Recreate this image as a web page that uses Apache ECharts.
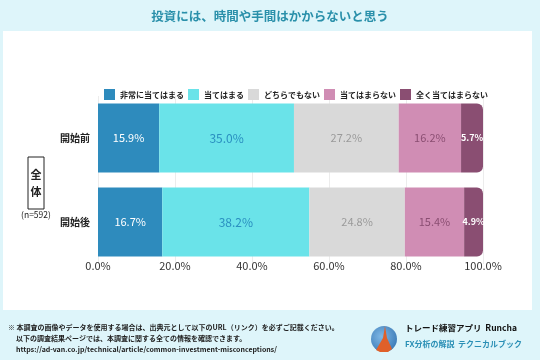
<!DOCTYPE html>
<html><head><meta charset="utf-8">
<script src="https://cdn.jsdelivr.net/npm/echarts@6/dist/echarts.min.js"></script>
<style>html,body{margin:0;padding:0;background:#def5fa}#c{width:540px;height:360px}</style>
</head><body><div id="c"></div>
<script>
var categories = ['開始前', '開始後'];
var seriesNames = ['非常に当てはまる', '当てはまる', 'どちらでもない', '当てはまらない', '全く当てはまらない'];
var vStrong = [15.9, 16.7];
var vAgree = [35.0, 38.2];
var vNeutral = [27.2, 24.8];
var vDisagree = [16.2, 15.4];
var vStrongDis = [5.7, 4.9];
var xTicks = [0, 20, 40, 60, 80, 100];
var title = '投資には、時間や手間はかからないと思う';

var values = [vStrong, vAgree, vNeutral, vDisagree, vStrongDis];
var colors = ['#2e8bbd', '#6ae3e9', '#d9d9d9', '#d08db4', '#8a4e72'];
var labelColors = ['#ffffff', '#2a8fc0', '#9a9a9a', '#8a4e72', '#ffffff'];
var FONT = '"Noto Sans CJK JP", "Noto Sans", sans-serif';

var series = seriesNames.map(function (n, i) {
  return {
    name: n, type: 'bar', stack: 'a', barWidth: 69,
    data: values[i],
    itemStyle: { color: colors[i], borderRadius: i === 4 ? [0, 6, 6, 0] : 0 },
    label: {
      show: true, position: 'inside', color: labelColors[i],
      fontFamily: FONT,
      fontSize: i === 4 ? 9 : (i === 1 ? 12 : 11),
      fontWeight: i === 4 ? 'bold' : 'normal',
      formatter: function (p) { return p.value.toFixed(1) + '%'; }
    }
  };
});

var chart = echarts.init(document.getElementById('c'));
chart.setOption({
  backgroundColor: '#def5fa',
  animation: false,
  textStyle: { fontFamily: FONT },
  legend: {
    data: seriesNames, left: 104, top: 89, padding: 0, width: 430, itemWidth: 11, itemHeight: 11, itemGap: 4,
    icon: 'rect',
    textStyle: { fontSize: 8, fontWeight: 'bold', color: '#222', fontFamily: FONT }
  },
  grid: { left: 98, right: 57, top: 96, height: 168 },
  xAxis: {
    type: 'value', min: 0, max: 100, interval: 20,
    axisLine: { show: false }, axisTick: { show: false },
    splitLine: { show: true, lineStyle: { color: '#ececec', width: 1 } },
    axisLabel: { margin: -4, fontSize: 11, color: '#333', fontFamily: FONT,
      formatter: function (v) { return xTicks.indexOf(v) >= 0 ? v.toFixed(1) + '%' : ''; } }
  },
  yAxis: {
    type: 'category', data: categories, inverse: true,
    axisLine: { show: false }, axisTick: { show: false },
    axisLabel: { margin: 8, fontSize: 10, fontWeight: 'bold', color: '#222', fontFamily: FONT }
  },
  series: series,
  graphic: [
    { type: 'rect', z: -10, shape: { x: 3, y: 31, width: 529, height: 279 }, style: { fill: '#ffffff' } },
    { type: 'text', x: 270, y: 16, style: { text: title, fill: '#2a90aa', font: 'bold 12.5px ' + FONT, align: 'center', verticalAlign: 'middle' } },
    { type: 'rect', shape: { x: 28, y: 157, width: 16, height: 52 }, style: { fill: 'none', stroke: '#222', lineWidth: 1 } },
    { type: 'text', x: 36, y: 175, style: { text: '全', fill: '#222', font: 'bold 11px ' + FONT, align: 'center', verticalAlign: 'middle' } },
    { type: 'text', x: 36, y: 192, style: { text: '体', fill: '#222', font: 'bold 11px ' + FONT, align: 'center', verticalAlign: 'middle' } },
    { type: 'text', x: 36, y: 215, style: { text: '(n=592)', fill: '#222', font: '8.5px ' + FONT, align: 'center', verticalAlign: 'middle' } },
    { type: 'text', x: 8, y: 327, style: { text: '※ 本調査の画像やデータを使用する場合は、出典元として以下のURL（リンク）を必ずご記載ください。', fill: '#222', font: 'bold 7px ' + FONT, verticalAlign: 'middle' } },
    { type: 'text', x: 16, y: 338, style: { text: '以下の調査結果ページでは、本調査に関する全ての情報を確認できます。', fill: '#222', font: 'bold 7px ' + FONT, verticalAlign: 'middle' } },
    { type: 'text', x: 16, y: 349, style: { text: 'https://ad-van.co.jp/technical/article/common-investment-misconceptions/', fill: '#222', font: 'bold 7px ' + FONT, verticalAlign: 'middle' } },
    { type: 'circle', shape: { cx: 384, cy: 339, r: 13 }, style: { fill: new echarts.graphic.RadialGradient(0.4, 0.4, 0.8, [{ offset: 0, color: '#7fb8e6' }, { offset: 1, color: '#2f6fae' }]) } },
    { type: 'polygon', shape: { points: [[385, 326], [383, 338], [376, 350], [380, 352], [388, 352], [392, 349], [387, 338]] }, style: { fill: '#e0602a' } },
    { type: 'text', x: 405, y: 328, style: { text: 'トレード練習アプリ  Runcha', fill: '#111', font: 'bold 8.5px ' + FONT, verticalAlign: 'middle' } },
    { type: 'text', x: 405, y: 344, style: { text: 'FX分析の解説  テクニカルブック', fill: '#2a8fb5', font: 'bold 8px ' + FONT, verticalAlign: 'middle' } }
  ]
});
</script></body></html>
